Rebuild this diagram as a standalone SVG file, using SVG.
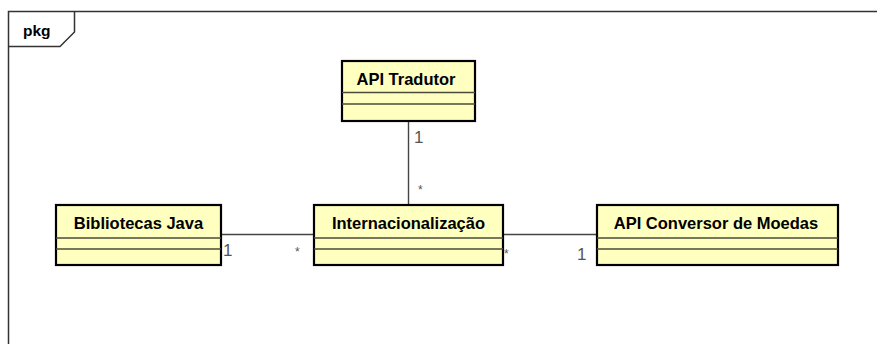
<svg xmlns="http://www.w3.org/2000/svg" width="877" height="344" viewBox="0 0 877 344">
  <style>
    .frame { fill: none; stroke: #333; stroke-width: 1.5; }
    .cls { fill: #FFFFC0; stroke: #000; stroke-width: 2.2; }
    .sep { stroke: #4a4a3a; stroke-width: 1.4; }
    .name { font-family: "Liberation Sans", Arial, sans-serif; font-size: 16.5px; font-weight: bold; fill: #000; text-anchor: middle; }
    .mult { font-family: "Liberation Sans", Arial, sans-serif; font-size: 17px; fill: #555; }
    .star { font-family: "Liberation Sans", Arial, sans-serif; font-size: 12px; fill: #555; }
    .assoc { stroke: #444; stroke-width: 1.4; fill: none; }
    .pkgname { font-family: "Liberation Sans", Arial, sans-serif; font-size: 15.5px; font-weight: bold; fill: #000; }
  </style>
  <rect width="877" height="344" fill="#fff"/>

  <!-- package frame with name tab -->
  <g id="pkg-frame">
    <path class="frame" d="M8.5,350 V11.5 H880"/>
    <path class="frame" d="M8.5,46.5 H60 L74.5,32 V11.5"/>
    <text class="pkgname" x="23" y="36">pkg</text>
  </g>

  <!-- associations -->
  <g id="connectors">
    <line class="assoc" x1="408.5" y1="121" x2="408.5" y2="205"/>
    <line class="assoc" x1="221" y1="234.5" x2="314" y2="234.5"/>
    <line class="assoc" x1="503" y1="234.5" x2="597" y2="234.5"/>
    <text class="mult" x="414" y="143">1</text>
    <text class="star" x="418" y="194">*</text>
    <text class="mult" x="223" y="256">1</text>
    <text class="star" x="295" y="256">*</text>
    <text class="star" x="504" y="258">*</text>
    <text class="mult" x="577" y="260">1</text>
  </g>

  <g id="api-tradutor">
    <rect class="cls" x="342" y="61" width="133" height="60"/>
    <line class="sep" x1="342" y1="92.5" x2="475" y2="92.5"/>
    <line class="sep" x1="342" y1="104" x2="475" y2="104"/>
    <text class="name" x="406" y="85">API Tradutor</text>
  </g>

  <g id="bibliotecas-java">
    <rect class="cls" x="56" y="205" width="165" height="60"/>
    <line class="sep" x1="56" y1="238" x2="221" y2="238"/>
    <line class="sep" x1="56" y1="249" x2="221" y2="249"/>
    <text class="name" x="138.5" y="228.5">Bibliotecas Java</text>
  </g>

  <g id="internacionalizacao">
    <rect class="cls" x="314" y="205" width="189" height="60"/>
    <line class="sep" x1="314" y1="238" x2="503" y2="238"/>
    <line class="sep" x1="314" y1="249" x2="503" y2="249"/>
    <text class="name" x="408.5" y="228.5">Internacionalização</text>
  </g>

  <g id="api-conversor">
    <rect class="cls" x="597" y="205" width="241" height="60"/>
    <line class="sep" x1="597" y1="238" x2="838" y2="238"/>
    <line class="sep" x1="597" y1="249" x2="838" y2="249"/>
    <text class="name" x="716" y="228.5">API Conversor de Moedas</text>
  </g>
</svg>
